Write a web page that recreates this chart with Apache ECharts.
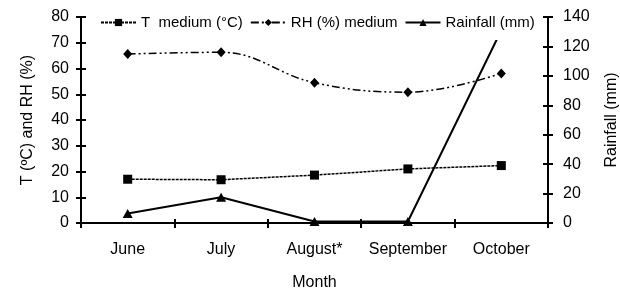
<!DOCTYPE html>
<html>
<head>
<meta charset="utf-8">
<script src="https://cdn.jsdelivr.net/npm/echarts@6/dist/echarts.min.js"></script>
<style>html,body{margin:0;padding:0;background:#fff}#c{width:620px;height:288px}</style>
</head>
<body>
<div id="c"></div>
<script>
var months = ['June', 'July', 'August*', 'September', 'October'];
var tMedium = [17.0, 16.8, 18.6, 21.0, 22.3];
var rhMedium = [65.6, 66.3, 54.5, 50.8, 58.1];
var rainfall = [6.5, 17.5, 1.0, 1.0, 131];
var leftTicks = {min: 0, max: 80, interval: 10};
var rightTicks = {min: 0, max: 140, interval: 20};

var FONT = '"Liberation Sans", Arial, sans-serif';
var FS = 16;
var chart = echarts.init(document.getElementById('c'), null, {renderer: 'canvas'});
var axisLine = {show: true, lineStyle: {color: '#000', width: 2}};
var tickStyle = {color: '#000', width: 2};
function yAx(t, pos, inside, withLabels, name, gap, margin) {
  return {
    type: 'value', position: pos, min: t.min, max: t.max, interval: t.interval, z: 10,
    name: withLabels ? name : '', nameLocation: 'middle', nameGap: gap, nameRotate: 90,
    nameTextStyle: {fontFamily: FONT, fontSize: FS, color: '#000'},
    axisLine: withLabels ? axisLine : {show: false},
    axisTick: {show: true, inside: inside, length: 5, lineStyle: tickStyle},
    axisLabel: {show: withLabels, fontFamily: FONT, fontSize: FS, color: '#000', margin: margin},
    splitLine: {show: false}
  };
}
chart.setOption({
  animation: false,
  backgroundColor: '#fff',
  grid: {left: 81, right: 72, top: 17, bottom: 65, containLabel: false, outerBoundsMode: 'none'},
  legend: {
    left: 90, top: 10, padding: [5, 2, 10, 10],
    backgroundColor: '#fff',
    itemWidth: 35, itemHeight: 9, itemGap: 7,
    textStyle: {fontFamily: FONT, fontSize: 15, color: '#000'},
    data: ['T  medium (°C)', 'RH (%) medium', 'Rainfall (mm)']
  },
  xAxis: [{
    type: 'category', data: months, position: 'bottom', z: 10,
    name: 'Month', nameLocation: 'middle', nameGap: 52,
    nameTextStyle: {fontFamily: FONT, fontSize: FS, color: '#000'},
    axisLine: axisLine,
    axisTick: {show: true, length: 5, lineStyle: tickStyle},
    axisLabel: {interval: 0, fontFamily: FONT, fontSize: FS, color: '#000', margin: 19}
  }, {
    type: 'category', data: months, position: 'bottom', z: 10,
    axisLine: {show: false},
    axisTick: {show: true, inside: true, length: 4, lineStyle: tickStyle},
    axisLabel: {show: false}
  }],
  yAxis: [
    yAx(leftTicks, 'left', false, true, 'T (ºC) and RH (%)', 45, 12),
    yAx(rightTicks, 'right', false, true, 'Rainfall (mm)', 56, 15),
    yAx(leftTicks, 'left', true, false, '', 0, 0),
    yAx(rightTicks, 'right', true, false, '', 0, 0)
  ],
  series: [{
    name: 'T  medium (°C)', type: 'line', data: tMedium, yAxisIndex: 0,
    symbol: 'rect', symbolSize: 9,
    lineStyle: {color: '#000', width: 1.5, type: [3, 1]},
    itemStyle: {color: '#000'}
  }, {
    name: 'RH (%) medium', type: 'line', data: rhMedium, yAxisIndex: 0,
    smooth: 0.4,
    symbol: 'diamond', symbolSize: [9, 10],
    lineStyle: {color: '#000', width: 1.5, type: [8, 3, 2, 3, 2, 3]},
    itemStyle: {color: '#000'}
  }, {
    name: 'Rainfall (mm)', type: 'line', data: rainfall, yAxisIndex: 1,
    symbol: 'triangle', symbolSize: [10, 9],
    lineStyle: {color: '#000', width: 2},
    itemStyle: {color: '#000'}
  }]
});
</script>
</body>
</html>
